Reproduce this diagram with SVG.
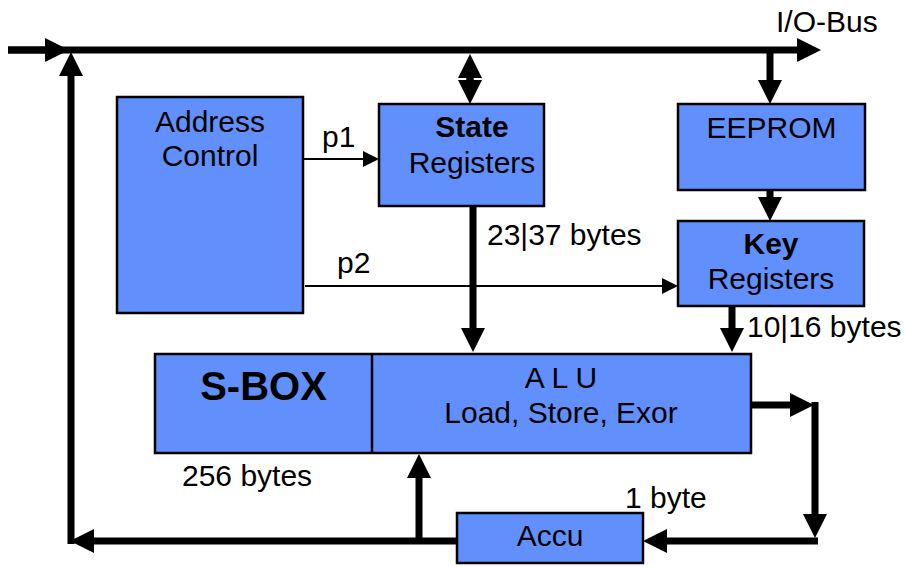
<svg xmlns="http://www.w3.org/2000/svg" width="906" height="567" viewBox="0 0 906 567">
<style>
  .box { fill: #6190fd; stroke: #000; stroke-width: 2.5; }
  .t { font-family: "Liberation Sans", Arial, sans-serif; font-size: 30px; fill: #000; }
  .c { text-anchor: middle; }
  .b { font-weight: bold; }
  .thick { fill: none; stroke: #000; stroke-width: 7; }
  .thin { fill: none; stroke: #000; stroke-width: 2; }
</style>
<defs>
  <marker id="big" markerUnits="userSpaceOnUse" markerWidth="24" markerHeight="24" viewBox="0 0 24 24" refX="0" refY="12" orient="auto">
    <path d="M0,0 L24,12 L0,24 Z" fill="#000"/>
  </marker>
  <marker id="small" markerUnits="userSpaceOnUse" markerWidth="16" markerHeight="16" viewBox="0 0 16 16" refX="0" refY="8" orient="auto">
    <path d="M0,0 L16,8 L0,16 Z" fill="#000"/>
  </marker>
</defs>

<g id="connectors">
  <path class="thick" d="M8,50 H797" marker-end="url(#big)"/>
  <path class="thick" d="M8,50 H45" marker-end="url(#big)"/>
  <path class="thick" d="M71,544 V76" marker-end="url(#big)"/>
  <path class="thick" d="M457,541 H94" marker-end="url(#big)"/>
  <path class="thick" d="M419,541 V478" marker-end="url(#big)"/>
  <path class="thick" d="M751,405 H790" marker-end="url(#big)"/>
  <path class="thick" d="M815,402 V514" marker-end="url(#big)"/>
  <path class="thick" d="M818,541 H667" marker-end="url(#big)"/>
  <path class="thick" d="M473,206 V328" marker-end="url(#big)"/>
  <path class="thick" d="M732,306 V328" marker-end="url(#big)"/>
  <path class="thick" d="M770,190 V197" marker-end="url(#big)"/>
  <path class="thick" d="M770,50 V80" marker-end="url(#big)"/>
  <path class="thick" d="M470,78 V80" marker-end="url(#big)"/>
  <path class="thick" d="M470,80 V78" marker-end="url(#big)"/>
  <path class="thin" d="M303,159 H363" marker-end="url(#small)"/>
  <path class="thin" d="M305,286 H662" marker-end="url(#small)"/>
</g>

<g id="address-control">
  <rect class="box" x="117" y="97" width="186" height="216"/>
  <text class="t c" x="210" y="132">Address</text>
  <text class="t c" x="210" y="166">Control</text>
</g>

<g id="state-registers">
  <rect class="box" x="379" y="104" width="165" height="102"/>
  <text class="t c b" x="472" y="137">State</text>
  <text class="t c" x="472" y="173">Registers</text>
</g>

<g id="eeprom">
  <rect class="box" x="678" y="104" width="187" height="86"/>
  <text class="t c" x="771.5" y="138">EEPROM</text>
</g>

<g id="key-registers">
  <rect class="box" x="678" y="221" width="186" height="85"/>
  <text class="t c b" x="771" y="254">Key</text>
  <text class="t c" x="771" y="289">Registers</text>
</g>

<g id="sbox-alu">
  <rect class="box" x="155" y="354" width="596" height="99"/>
  <line x1="372" y1="354" x2="372" y2="453" stroke="#000" stroke-width="2.5"/>
  <text class="t c b" x="263.5" y="400" style="font-size:40px">S-BOX</text>
  <text class="t c" x="561" y="388">A L U</text>
  <text class="t c" x="561" y="423">Load, Store, Exor</text>
</g>

<g id="accu">
  <rect class="box" x="457" y="513" width="186" height="50"/>
  <text class="t c" x="550" y="546">Accu</text>
</g>

<g id="labels">
  <text class="t" x="776" y="32">I/O-Bus</text>
  <text class="t" x="322" y="147">p1</text>
  <text class="t" x="337" y="273">p2</text>
  <text class="t" x="487" y="245">23|37 bytes</text>
  <text class="t" x="747" y="337">10|16 bytes</text>
  <text class="t" x="182" y="486">256 bytes</text>
  <text class="t" x="625" y="508">1 byte</text>
</g>
</svg>
